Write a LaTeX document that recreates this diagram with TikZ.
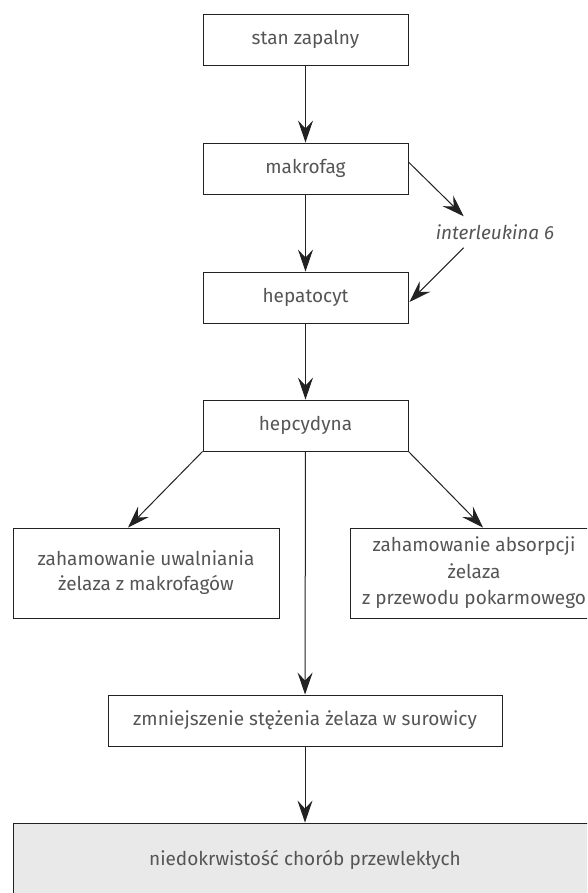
\documentclass[tikz,border=0pt]{standalone}
\usepackage{fontspec}
\setmainfont{Fira Sans}
\usetikzlibrary{arrows.meta,calc}
\definecolor{txt}{HTML}{555555}
\definecolor{ln}{HTML}{222222}
\definecolor{fillgray}{HTML}{E8E9E8}
\tikzset{
  box/.style={draw=ln, line width=0.9pt, minimum width=205pt, minimum height=51pt,
    inner sep=0pt, text=txt, font=\fontsize{19}{25}\selectfont, align=center},
  arr/.style={draw=ln, line width=1pt, -{Stealth[length=22pt,width=15pt,inset=8pt]}},
}
\begin{document}
\begin{tikzpicture}[x=1pt,y=-1pt]
\useasboundingbox (0,0) rectangle (587,893);
\begin{scope}
\clip (0,0) rectangle (587,893);
\node[box] (stan) at (305.5,39.5) {stan zapalny};
\node[box] (mak) at (305.5,168.5) {makrofag};
\node[box] (hep) at (305.5,297.5) {hepatocyt};
\node[box] (hepc) at (305.5,425.5) {hepcydyna};
\node[text=txt, font=\fontsize{19}{25}\selectfont\itshape, inner sep=0pt] (il) at (495,232) {interleukina 6};
\node[box, minimum width=266pt, minimum height=90pt] (left) at (146,573) {zahamowanie uwalniania\\ żelaza z makrofagów};
\node[box, minimum width=248pt, minimum height=90pt] (right) at (474,573) {zahamowanie absorpcji\\[1.5pt] żelaza\\[1.5pt] z przewodu pokarmowego};
\node[box, minimum width=394pt] (zmn) at (305,720.5) {zmniejszenie stężenia żelaza w surowicy};
\node[box, fill=fillgray, minimum width=584pt, minimum height=74pt] (bot) at (305,860) {niedokrwistość chorób przewlekłych};

\draw[arr] (stan) -- (mak);
\draw[arr] (mak) -- (hep);
\draw[arr] (hep) -- (hepc);
\draw[arr] (hepc) -- (zmn);
\draw[arr] (zmn) -- (bot);
\draw[arr] ($(mak.east)+(0,-6.5)$) -- ($(il.north west)+(28,-8)$);
\draw[arr] ($(il.south west)+(28,8)$) -- ($(hep.east)+(1,4.5)$);
\draw[arr] (hepc.south west) -- ($(left.north)+(-18,0)$);
\draw[arr] (hepc.south east) -- ($(right.north)+(9,0)$);
\end{scope}
\end{tikzpicture}
\end{document}
